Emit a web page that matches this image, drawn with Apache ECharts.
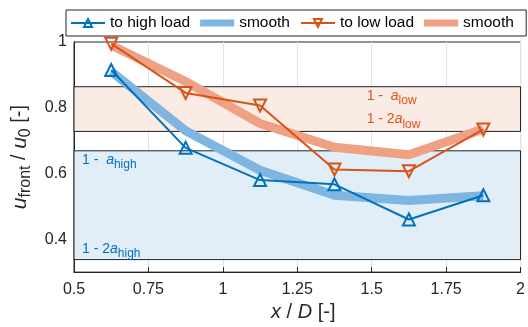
<!DOCTYPE html>
<html>
<head>
<meta charset="utf-8">
<script src="https://cdn.jsdelivr.net/npm/echarts@6/dist/echarts.min.js"></script>
<style>
  html, body { margin: 0; padding: 0; background: #fff; }
  #chart { width: 528px; height: 327px; }
</style>
</head>
<body>
<div id="chart"></div>
<script>
// Axial positions x/D of the measurement stations
const xPos = [0.625, 0.875, 1.125, 1.375, 1.625, 1.875];

// Normalised front velocity u_front / u_0
const toHighLoad   = [0.915, 0.678, 0.580, 0.567, 0.460, 0.534];
const smoothHigh   = [0.910, 0.730, 0.610, 0.534, 0.518, 0.532];
const toLowLoad    = [0.995, 0.845, 0.807, 0.612, 0.607, 0.734];
const smoothLow    = [0.990, 0.880, 0.752, 0.680, 0.657, 0.735];

// Induction limits: 1 - a and 1 - 2a for both load cases
const aLow  = 0.136;
const aHigh = 0.331;

const xTicks = [0.5, 0.75, 1, 1.25, 1.5, 1.75, 2];
const yTickLabels = [0.4, 0.6, 0.8, 1];

const FONT = 'Liberation Sans, Arial, Helvetica, sans-serif';
const BLUE = '#0072BD', BLUE_S = '#7EB5E1';
const ORANGE = '#D95319', ORANGE_S = '#EEA283';

// thick bar icon for the smoothed curves in the legend
const BAR_ICON = 'path://M0 0h0.2v0.05h-0.2zM0 1.6h34v6.8h-34zM33.8 9.95h0.2v0.05h-0.2z';

const pairs = ys => xPos.map((x, i) => [x, ys[i]]);

// "1 - a_sub" style label; the subscript is pushed down with top padding
function bandLabel(text, sub, color) {
  return {
    formatter: '{n|' + text + '}{a|a}{s|' + sub + '}',
    position: 'right',
    distance: 0,
    rich: {
      n: { color: color, fontSize: 14, fontFamily: FONT },
      a: { color: color, fontSize: 14, fontFamily: FONT, fontStyle: 'italic' },
      s: { color: color, fontSize: 12, fontFamily: FONT, padding: [10, 0, 0, 0] }
    }
  };
}

const chart = echarts.init(document.getElementById('chart'), null, { renderer: 'canvas' });

chart.setOption({
  animation: false,
  backgroundColor: '#fff',
  grid: {
    left: 74, right: 3, top: 42, bottom: 53,
    show: true, borderColor: '#262626', borderWidth: 1
  },
  legend: {
    data: [
      { name: 'to high load' },
      { name: 'smooth', icon: BAR_ICON },
      { name: 'to low load' },
      { name: 'smooth ', icon: BAR_ICON }
    ],
    left: 66, top: 10,
    padding: [5, 8, 5, 4],
    itemGap: 10,
    itemWidth: 34, itemHeight: 10,
    borderColor: '#262626', borderWidth: 1,
    textStyle: { fontSize: 15.5, fontFamily: FONT, color: '#000' },
    selectedMode: false
  },
  xAxis: {
    type: 'value',
    min: 0.5, max: 2, interval: 0.25,
    name: '{i|x}{n| / }{i|D}{n| [-]}',
    nameLocation: 'middle', nameGap: 28,
    nameTextStyle: {
      padding: [0, 0, 0, 12],
      rich: {
        i: { fontSize: 20, fontStyle: 'italic', fontFamily: FONT, color: '#262626' },
        n: { fontSize: 20, fontFamily: FONT, color: '#262626' }
      }
    },
    axisLine: { lineStyle: { color: '#262626', width: 1 } },
    axisTick: { inside: true, length: 5, lineStyle: { color: '#262626' } },
    axisLabel: { fontSize: 16, fontFamily: FONT, color: '#262626', margin: 9 },
    splitLine: { show: true, lineStyle: { color: '#e3e3e3', width: 1 } }
  },
  yAxis: {
    type: 'value',
    min: 0.3, max: 1,
    name: '{u|u}{s|front}{n| / }{u|u}{s|0}{n| [-]}',
    nameLocation: 'middle', nameGap: 35,
    nameTextStyle: {
      rich: {
        u: { fontSize: 21, fontStyle: 'italic', fontFamily: FONT, color: '#262626' },
        n: { fontSize: 20, fontFamily: FONT, color: '#262626' },
        s: { fontSize: 16, fontFamily: FONT, color: '#262626', padding: [12, 0, 0, 0] }
      }
    },
    axisLine: { show: true, lineStyle: { color: '#262626', width: 1 } },
    axisTick: { show: false },
    axisLabel: {
      fontSize: 16, fontFamily: FONT, color: '#262626', margin: 7,
      customValues: yTickLabels,
      formatter: v => String(+v.toFixed(2))
    },
    splitLine: { show: false }
  },
  series: [
    {
      // Shaded induction bands with their boundary lines and labels
      type: 'line', data: [], silent: true, z: 1,
      markArea: {
        silent: true,
        data: [
          [{ xAxis: 0.5, yAxis: 1 - 2 * aLow,
             itemStyle: { color: '#FBEBE5', borderColor: '#222', borderWidth: 1 } },
           { xAxis: 2, yAxis: 1 - aLow }],
          [{ xAxis: 0.5, yAxis: 1 - 2 * aHigh,
             itemStyle: { color: '#E1EEF8', borderColor: '#222', borderWidth: 1 } },
           { xAxis: 2, yAxis: 1 - aHigh }]
        ]
      },
      markPoint: {
        silent: true,
        symbol: 'circle', symbolSize: 0,
        data: [
          { coord: [1.483, 0.836], label: bandLabel('1 -  ', 'low', ORANGE) },
          { coord: [1.483, 0.764], label: bandLabel('1 - 2', 'low', ORANGE) },
          { coord: [0.527, 0.642], label: bandLabel('1 -  ', 'high', BLUE) },
          { coord: [0.527, 0.370], label: bandLabel('1 - 2', 'high', BLUE) }
        ]
      }
    },
    {
      name: 'smooth', type: 'line', z: 2,
      data: pairs(smoothHigh),
      showSymbol: false, symbol: 'none',
      lineStyle: { color: BLUE_S, width: 9 },
      itemStyle: { color: BLUE_S }
    },
    {
      name: 'smooth ', type: 'line', z: 2,
      data: pairs(smoothLow),
      showSymbol: false, symbol: 'none',
      lineStyle: { color: ORANGE_S, width: 9 },
      itemStyle: { color: ORANGE_S }
    },
    {
      name: 'to high load', type: 'line', z: 3,
      data: pairs(toHighLoad),
      symbol: 'triangle', symbolSize: 12,
      lineStyle: { color: BLUE, width: 2 },
      itemStyle: { color: 'rgba(0,0,0,0)', borderColor: BLUE, borderWidth: 2 }
    },
    {
      name: 'to low load', type: 'line', z: 3,
      data: pairs(toLowLoad),
      symbol: 'triangle', symbolSize: 12, symbolRotate: 180,
      lineStyle: { color: ORANGE, width: 2 },
      itemStyle: { color: 'rgba(0,0,0,0)', borderColor: ORANGE, borderWidth: 2 }
    }
  ]
});
</script>
</body>
</html>
